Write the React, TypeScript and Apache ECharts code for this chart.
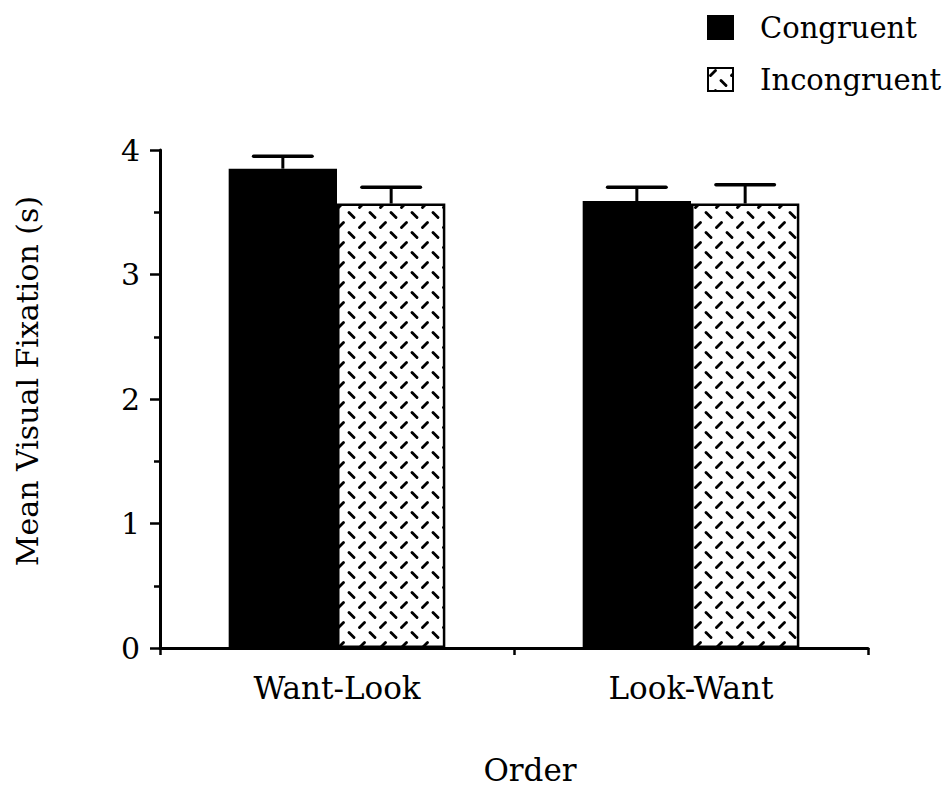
import React, { useEffect, useRef } from "react";
import * as echarts from "echarts";

const categories = ["Want-Look", "Look-Want"];
const seriesNames = ["Congruent", "Incongruent"];
const congruentMeans = [3.85, 3.59];
const incongruentMeans = [3.57, 3.57];
const congruentUpper = [3.95, 3.70];
const incongruentUpper = [3.70, 3.72];
const yTicks = { min: 0, max: 4, interval: 1 };
const xAxisTitle = "Order";
const yAxisTitle = "Mean Visual Fixation (s)";

const FONT = "'DejaVu Serif', serif";
const BAR_FRAC = 0.306;

const tileSvg =
  "<svg xmlns='http://www.w3.org/2000/svg' width='21' height='20'>" +
  "<rect width='21' height='20' fill='white'/>" +
  "<line x1='2.5' y1='7.5' x2='7.5' y2='2.5' stroke='black' stroke-width='2.9' stroke-linecap='round'/>" +
  "<line x1='13' y1='12.5' x2='18' y2='17.5' stroke='black' stroke-width='2.9' stroke-linecap='round'/>" +
  "</svg>";
const tileUrl = "data:image/svg+xml;charset=utf-8," + encodeURIComponent(tileSvg);

export default function App() {
  const ref = useRef<HTMLDivElement>(null);
  useEffect(() => {
    if (!ref.current) return;
    const chart = echarts.init(ref.current, null, { renderer: "svg" });
    const pattern: any = { image: tileUrl, repeat: "repeat", imageWidth: 21, imageHeight: 20 };
    const errData: any[] = [];
    categories.forEach((_, i) => {
      errData.push([i, congruentMeans[i], congruentUpper[i], 0]);
      errData.push([i, incongruentMeans[i], incongruentUpper[i], 1]);
    });
    chart.setOption({
      animation: false,
      backgroundColor: "#fff",
      textStyle: { fontFamily: FONT, color: "#000" },
      grid: { left: 160, right: 84, top: 150, bottom: 141, containLabel: false },
      legend: {
        data: seriesNames,
        orient: "vertical",
        left: 707,
        top: 13,
        padding: 0,
        itemWidth: 25,
        itemHeight: 23,
        itemGap: 23,
        icon: "rect",
        textStyle: { fontFamily: FONT, fontSize: 29, color: "#000", padding: [0, 0, 0, 22] },
      },
      xAxis: {
        type: "category",
        data: categories,
        boundaryGap: true,
        axisLine: { lineStyle: { color: "#000", width: 3 } },
        axisTick: { show: true, inside: false, length: 7, alignWithLabel: false, lineStyle: { color: "#000", width: 2.5 } },
        axisLabel: { fontFamily: FONT, fontSize: 31, color: "#000", margin: 24 },
        splitLine: { show: false },
      },
      yAxis: {
        type: "value",
        min: yTicks.min,
        max: yTicks.max,
        interval: yTicks.interval,
        axisLine: { show: true, lineStyle: { color: "#000", width: 3 } },
        axisTick: { show: true, inside: false, length: 10, lineStyle: { color: "#000", width: 2.5 } },
        minorTick: { show: true, splitNumber: 2, length: 6, lineStyle: { color: "#000", width: 2.5 } },
        axisLabel: { fontFamily: FONT, fontSize: 30, color: "#000", margin: 20 },
        splitLine: { show: false },
        minorSplitLine: { show: false },
      },
      graphic: [
        {
          type: "text",
          x: 27,
          y: 381,
          rotation: Math.PI / 2,
          style: {
            text: yAxisTitle,
            fontFamily: FONT,
            fontSize: 30,
            fill: "#000",
            align: "center",
            verticalAlign: "middle",
          },
        },
        {
          type: "text",
          x: 530,
          y: 770,
          style: {
            text: xAxisTitle,
            fontFamily: FONT,
            fontSize: 31,
            fill: "#000",
            align: "center",
            verticalAlign: "middle",
          },
        },
      ],
      series: [
        {
          name: seriesNames[0],
          type: "bar",
          data: congruentMeans,
          barWidth: (BAR_FRAC * 100).toFixed(1) + "%",
          barGap: "0%",
          itemStyle: { color: "#000", borderColor: "#000", borderWidth: 2 },
          z: 2,
        },
        {
          name: seriesNames[1],
          type: "bar",
          data: incongruentMeans,
          barWidth: (BAR_FRAC * 100).toFixed(1) + "%",
          barGap: "0%",
          itemStyle: { color: pattern, borderColor: "#000", borderWidth: 2.5 },
          z: 2,
        },
        {
          name: "errors",
          type: "custom",
          z: 5,
          data: errData,
          renderItem: (params: any, api: any) => {
            const cat = api.value(0);
            const mean = api.value(1);
            const upper = api.value(2);
            const sIdx = api.value(3);
            const base = api.coord([cat, mean]);
            const top = api.coord([cat, upper]);
            const band = api.size([1, 0])[0];
            const bw = band * BAR_FRAC;
            const x = base[0] + (sIdx === 0 ? -bw / 2 : bw / 2);
            const capHalf = bw * 0.27;
            return {
              type: "group",
              children: [
                {
                  type: "line",
                  shape: { x1: x, y1: base[1], x2: x, y2: top[1] },
                  style: { stroke: "#000", lineWidth: 3 },
                },
                {
                  type: "line",
                  shape: { x1: x - capHalf, y1: top[1], x2: x + capHalf, y2: top[1] },
                  style: { stroke: "#000", lineWidth: 3.5, lineCap: "round" },
                },
              ],
            };
          },
        },
      ],
    });
    return () => chart.dispose();
  }, []);
  return (
    <div
      ref={ref}
      style={{ position: "fixed", left: 0, top: 0, width: 952, height: 789, background: "#fff" }}
    />
  );
}
